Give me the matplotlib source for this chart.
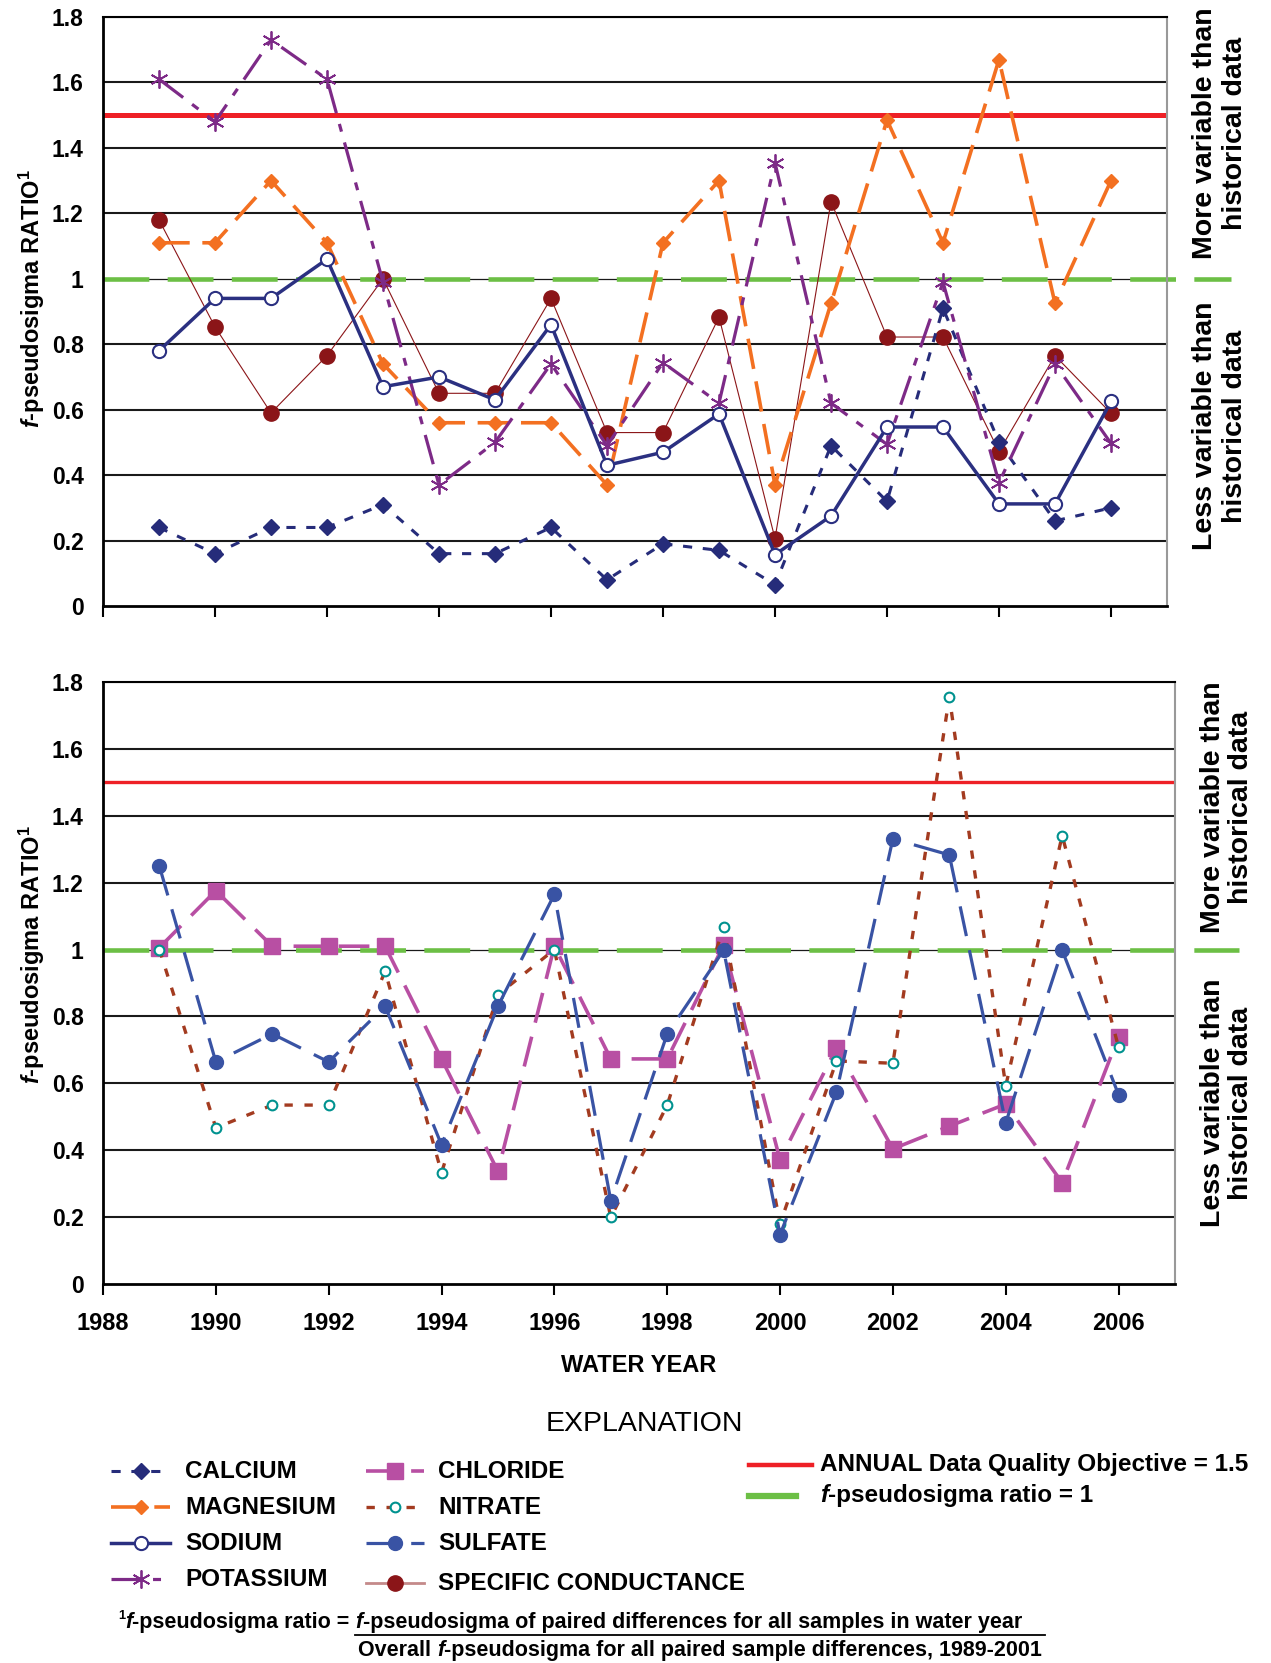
import matplotlib
matplotlib.use("Agg")
import matplotlib.pyplot as plt

# ---- data ----
years = list(range(1989, 2007))

calcium = [0.24, 0.16, 0.24, 0.24, 0.31, 0.16, 0.16, 0.24, 0.08, 0.19, 0.17, 0.065, 0.49, 0.32, 0.91, 0.50, 0.26, 0.30]
magnesium = [1.11, 1.11, 1.30, 1.11, 0.74, 0.56, 0.56, 0.56, 0.37, 1.11, 1.30, 0.37, 0.925, 1.485, 1.11, 1.67, 0.925, 1.30]
sodium = [0.78, 0.94, 0.94, 1.06, 0.67, 0.70, 0.63, 0.86, 0.43, 0.47, 0.587, 0.157, 0.275, 0.547, 0.547, 0.312, 0.312, 0.625]
potassium = [1.61, 1.48, 1.73, 1.61, 0.99, 0.37, 0.50, 0.74, 0.49, 0.744, 0.62, 1.355, 0.62, 0.494, 0.99, 0.377, 0.74, 0.497]
spec_cond = [1.18, 0.853, 0.59, 0.765, 1.00, 0.65, 0.65, 0.94, 0.53, 0.53, 0.883, 0.206, 1.236, 0.822, 0.822, 0.472, 0.765, 0.589]

chloride = [1.006, 1.176, 1.01, 1.01, 1.01, 0.673, 0.337, 1.01, 0.673, 0.673, 1.013, 0.371, 0.706, 0.404, 0.472, 0.538, 0.303, 0.74]
nitrate = [1.00, 0.467, 0.535, 0.535, 0.935, 0.333, 0.865, 1.00, 0.199, 0.535, 1.067, 0.18, 0.667, 0.66, 1.755, 0.592, 1.341, 0.708]
sulfate = [1.249, 0.664, 0.748, 0.664, 0.831, 0.416, 0.831, 1.165, 0.249, 0.748, 0.998, 0.148, 0.574, 1.331, 1.283, 0.482, 0.998, 0.566]

dqo = 1.5
ratio_one = 1.0
yticks = [0, 0.2, 0.4, 0.6, 0.8, 1.0, 1.2, 1.4, 1.6, 1.8]
ytick_labels = ["0", "0.2", "0.4", "0.6", "0.8", "1", "1.2", "1.4", "1.6", "1.8"]
xticks = list(range(1988, 2008, 2))

plt.rcParams["font.family"] = ["Liberation Sans", "DejaVu Sans"]
plt.rcParams["mathtext.fontset"] = "custom"
plt.rcParams["mathtext.rm"] = "Liberation Sans:bold"
plt.rcParams["mathtext.it"] = "Liberation Sans:italic:bold"
plt.rcParams["mathtext.bf"] = "Liberation Sans:bold"

W, H = 1271, 1663
fig = plt.figure(figsize=(W / 100, H / 100), dpi=100, facecolor="white")

RED = "#EE2026"
GREEN = "#6CBF45"

styles = {
    "CALCIUM": dict(color="#262C7A", lw=2.2, dashes=(3, 3.5), marker="D", ms=8.5, mfc="#262C7A", mec="#262C7A"),
    "MAGNESIUM": dict(color="#F37021", lw=2.6, dashes=(8.5, 3.5), marker="D", ms=7, mfc="#F37021", mec="#F37021"),
    "SODIUM": dict(color="#2B3081", lw=2.5, ls="-", marker="o", ms=9.5, mfc="white", mec="#2B3081", mew=1.5),
    "POTASSIUM": dict(color="#7D2A87", lw=2.3, dashes=(9.5, 3.5, 2.5, 3.5), marker=(6, 2, 0), ms=13, mec="#7D2A87", mew=1.3),
    "SPECIFIC CONDUCTANCE": dict(color="#8B1518", lw=0.8, ls="-", marker="o", ms=11, mfc="#8B1518", mec="#8B1518"),
    "CHLORIDE": dict(color="#B84FA3", lw=2.6, dashes=(8.5, 4), marker="s", ms=11, mfc="#B84FA3", mec="#B84FA3"),
    "NITRATE": dict(color="#A33B20", lw=2.4, dashes=(2.5, 3.5), marker="o", ms=7, mfc="white", mec="#00928F", mew=1.5),
    "SULFATE": dict(color="#3953A4", lw=2.3, dashes=(9.5, 4.5), marker="o", ms=10, mfc="#3953A4", mec="#3953A4"),
}


def frame(ax, red_lw, labels):
    ax.set_xlim(1988, 2007)
    ax.set_ylim(0, 1.8)
    for v in yticks[1:]:
        ax.axhline(v, color="#1a1a1a", lw=1.5 if v != 1.0 else 0.9, zorder=1)
    ax.axhline(dqo, color=RED, lw=red_lw, zorder=2)
    ax.plot([0, 1.06], [ratio_one, ratio_one], transform=ax.get_yaxis_transform(),
            color=GREEN, lw=3.3, dashes=(10, 4), clip_on=False, zorder=2.5)
    ax.set_yticks(yticks)
    ax.set_yticklabels(ytick_labels)
    ax.set_xticks(xticks)
    if labels:
        ax.set_xticklabels([str(t) for t in xticks])
    else:
        ax.set_xticklabels([])
    ax.tick_params(axis="y", length=0, pad=14, labelsize=16.5)
    ax.tick_params(axis="x", direction="out", length=8, width=1.5, pad=12, labelsize=17)
    for lab in ax.get_xticklabels() + ax.get_yticklabels():
        lab.set_fontweight("bold")
    ax.spines["left"].set_linewidth(2)
    ax.spines["bottom"].set_linewidth(2)
    ax.spines["top"].set_linewidth(1.5)
    ax.spines["right"].set_color("#999999")
    ax.spines["right"].set_linewidth(1.5)
    ax.set_facecolor("white")


def series(ax, name, values, z):
    ax.plot(years, values, zorder=z, **styles[name])


# ---- top panel ----
ax1 = fig.add_axes([103 / W, 1 - 606 / H, (1167 - 103) / W, (606 - 17) / H])
frame(ax1, 3.6, False)
series(ax1, "SPECIFIC CONDUCTANCE", spec_cond, 3)
series(ax1, "CALCIUM", calcium, 4)
series(ax1, "MAGNESIUM", magnesium, 5)
series(ax1, "POTASSIUM", potassium, 6)
series(ax1, "SODIUM", sodium, 7)

# ---- bottom panel ----
ax2 = fig.add_axes([103 / W, 1 - 1284 / H, (1175 - 103) / W, (1284 - 682) / H])
frame(ax2, 2.4, True)
series(ax2, "CHLORIDE", chloride, 4)
series(ax2, "NITRATE", nitrate, 5)
series(ax2, "SULFATE", sulfate, 6)
ax2.set_xlabel("WATER YEAR", fontsize=17, fontweight="bold", labelpad=14)

ylab = r"$\mathit{f}$-pseudosigma RATIO$^{\mathrm{1}}$"
fig.text(32 / W, 1 - 299 / H, ylab, rotation=90, ha="center", va="center", fontsize=17, fontweight="bold")
fig.text(32 / W, 1 - 955 / H, ylab, rotation=90, ha="center", va="center", fontsize=17, fontweight="bold")

side = dict(rotation=90, ha="center", va="center", fontsize=20.5, fontweight="bold", linespacing=1.15)
fig.text(1220 / W, 1 - 133 / H, "More variable than\nhistorical data", **side)
fig.text(1220 / W, 1 - 426 / H, "Less variable than\nhistorical data", **side)
fig.text(1227 / W, 1 - 807 / H, "More variable than\nhistorical data", **side)
fig.text(1227 / W, 1 - 1103 / H, "Less variable than\nhistorical data", **side)

# ---- explanation (pixel-coordinate overlay) ----
lax = fig.add_axes([0, 0, 1, 1], zorder=-1)
lax.set_xlim(0, W)
lax.set_ylim(H, 0)
lax.axis("off")

lax.text(644, 1424, "EXPLANATION", ha="center", va="center", fontsize=20.5)

legend_rows = [
    ("CALCIUM", 111, 170, 185, 1471),
    ("MAGNESIUM", 111, 170, 185, 1507),
    ("SODIUM", 111, 170, 185, 1543),
    ("POTASSIUM", 111, 170, 185, 1579),
    ("CHLORIDE", 366, 424, 438, 1471),
    ("NITRATE", 366, 424, 438, 1507),
    ("SULFATE", 366, 424, 438, 1543),
    ("SPECIFIC CONDUCTANCE", 366, 424, 438, 1583),
]
for name, x0, x1, xt, y in legend_rows:
    st = dict(styles[name])
    if name == "SPECIFIC CONDUCTANCE":
        st["color"] = "#C48A8A"
        st["lw"] = 2.0
    mk = {k: st.pop(k) for k in ["marker", "ms", "mfc", "mec", "mew"] if k in st}
    lax.plot([x0, x1], [y, y], **st)
    lax.plot([(x0 + x1) / 2], [y], ls="none", **mk)
    lax.text(xt, y, name, ha="left", va="center", fontsize=17.5, fontweight="bold")

lax.plot([749, 812], [1465, 1465], color=RED, lw=3.2)
lax.text(820, 1465, "ANNUAL Data Quality Objective = 1.5", ha="left", va="center",
         fontsize=17.5, fontweight="bold")
lax.plot([749, 796], [1496, 1496], color=GREEN, lw=4.5)

renderer = fig.canvas.get_renderer()


def runs(x, y, parts, size):
    # place text pieces one after another, italic pieces for the f
    for txt, style, dy, scale in parts:
        t = lax.text(x, y + dy, txt, ha="left", va="baseline", fontsize=size * scale,
                     fontweight="bold", fontstyle=style)
        x += t.get_window_extent(renderer).width
    return x


runs(820, 1502, [("f", "italic", 0, 1), ("-pseudosigma ratio = 1", "normal", 0, 1)], 17.5)

fs = 15.5
runs(118, 1628, [("1", "normal", -9, 0.6), ("f", "italic", 0, 1),
                 ("-pseudosigma ratio = ", "normal", 0, 1), ("f", "italic", 0, 1),
                 ("-pseudosigma of paired differences for all samples in water year", "normal", 0, 1)], fs)
lax.plot([355, 1045], [1635, 1635], color="black", lw=1.3)
runs(358, 1656, [("Overall ", "normal", 0, 1), ("f", "italic", 0, 1),
                 ("-pseudosigma for all paired sample differences, 1989-2001", "normal", 0, 1)], fs)

fig.savefig("out.png", dpi=100, facecolor="white")
